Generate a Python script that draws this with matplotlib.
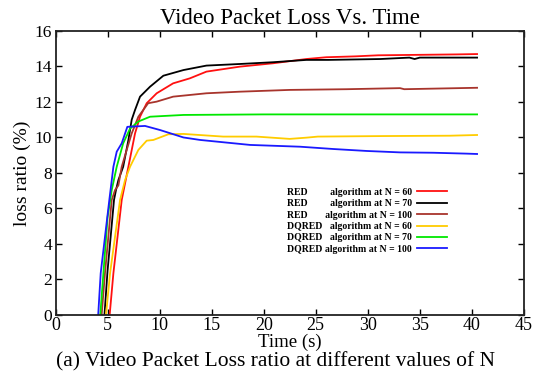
import matplotlib
matplotlib.use('Agg')
import matplotlib.pyplot as plt

plt.rcParams['font.family'] = 'Liberation Serif'

# loss ratio (%) against time (s) for each queue scheme / N
red60_t = [5.2, 5.56, 6.36, 7.0, 7.64, 8.12, 8.76, 9.72, 11.3, 12.9, 14.5, 17.7, 20.9, 24.1, 26.0, 28.8, 31.0, 34.0, 38.5, 40.5]
red60_v = [0, 2.35, 6.48, 8.35, 10.23, 11.17, 11.93, 12.49, 13.05, 13.33, 13.71, 13.99, 14.18, 14.42, 14.52, 14.57, 14.63, 14.65, 14.68, 14.7]

red70_t = [4.7, 5.0, 5.62, 5.81, 6.04, 6.5, 7.0, 7.32, 7.64, 8.12, 9.08, 10.36, 12.3, 14.5, 17.7, 20.9, 24.1, 26.2, 31.2, 34.0, 34.5, 35.0, 40.5]
red70_v = [0, 2.5, 6.48, 7.04, 7.6, 8.35, 9.85, 11.0, 11.55, 12.3, 12.86, 13.48, 13.8, 14.05, 14.14, 14.24, 14.37, 14.37, 14.42, 14.5, 14.42, 14.5, 14.5]

red100_t = [4.43, 4.75, 5.4, 5.72, 6.04, 6.36, 6.84, 7.32, 7.96, 8.9, 9.72, 11.3, 14.5, 17.7, 22.5, 28.0, 33.1, 33.5, 40.5]
red100_v = [0, 2.35, 6.48, 7.04, 7.3, 8.35, 9.3, 10.23, 11.17, 11.93, 12.02, 12.3, 12.49, 12.58, 12.68, 12.72, 12.78, 12.72, 12.8]

dq60_t = [4.85, 5.24, 6.2, 6.68, 7.16, 7.96, 8.76, 9.4, 10.84, 12.3, 16.1, 19.3, 22.5, 24.1, 25.2, 31.5, 37.9, 40.5]
dq60_v = [0, 2.35, 6.48, 7.6, 8.35, 9.3, 9.82, 9.86, 10.18, 10.2, 10.05, 10.05, 9.92, 9.99, 10.05, 10.08, 10.1, 10.14]

dq70_t = [4.3, 4.6, 5.0, 5.4, 5.88, 6.5, 7.16, 7.96, 9.08, 12.3, 20.0, 40.5]
dq70_v = [0, 2.35, 5.5, 7.04, 8.35, 9.67, 10.5, 10.9, 11.17, 11.27, 11.3, 11.3]

dq100_t = [4.1, 4.34, 5.17, 5.56, 5.88, 6.36, 6.9, 8.6, 10.04, 12.3, 13.9, 18.7, 23.5, 26.7, 29.9, 33.1, 36.3, 39.5, 40.5]
dq100_v = [0, 2.35, 6.48, 8.35, 9.2, 9.67, 10.6, 10.65, 10.42, 10.0, 9.86, 9.58, 9.48, 9.35, 9.24, 9.16, 9.14, 9.09, 9.07]

labels = ['RED         algorithm at N = 60',
          'RED         algorithm at N = 70',
          'RED       algorithm at N = 100',
          'DQRED   algorithm at N = 60',
          'DQRED   algorithm at N = 70',
          'DQRED algorithm at N = 100']
colors = ['#ff1010', '#000000', '#a8342c', '#ffcc00', '#00e800', '#1a1aff']
series = [(red60_t, red60_v), (red70_t, red70_v), (red100_t, red100_v),
          (dq60_t, dq60_v), (dq70_t, dq70_v), (dq100_t, dq100_v)]

fig = plt.figure(figsize=(5.39, 3.71), dpi=100)
ax = fig.add_axes([0.103, 0.151, 0.869, 0.7655])

for (t, v), c, lab in zip(series, colors, labels):
    ax.plot(t, v, color=c, linewidth=1.3, label=lab)

ax.set_xlim(0, 45)
ax.set_ylim(0, 16)
ax.set_xticks(range(0, 46, 5))
ax.set_yticks(range(0, 17, 2))
ax.tick_params(direction='in', top=True, right=True, length=4, width=1, pad=2.5)
ax.tick_params(axis='x', labelsize=13, pad=1.5)
ax.tick_params(axis='y', labelsize=12.5)
for s in ax.spines.values():
    s.set_linewidth(1.3)
    s.set_color('#222222')

ax.set_title('Video Packet Loss Vs. Time', fontsize=16.5, pad=5)
ax.set_xlabel('Time (s)', fontsize=13.5)
ax.xaxis.set_label_coords(0.5, -0.066)
ax.set_ylabel('loss ratio (%)', fontsize=14)
ax.yaxis.set_label_coords(-0.052, 0.5)

leg = ax.legend(loc='upper right', bbox_to_anchor=(0.836, 0.448), frameon=False,
                markerfirst=False, handlelength=3.1, handletextpad=0.5,
                labelspacing=0.25, borderpad=0, borderaxespad=0,
                prop={'family': 'Liberation Serif', 'weight': 'bold', 'size': 7})

fig.text(0.511, 1 - 366 / 371, '(a) Video Packet Loss ratio at different values of N',
         ha='center', va='baseline', fontsize=15.5)

fig.savefig('out.png', dpi=100)
